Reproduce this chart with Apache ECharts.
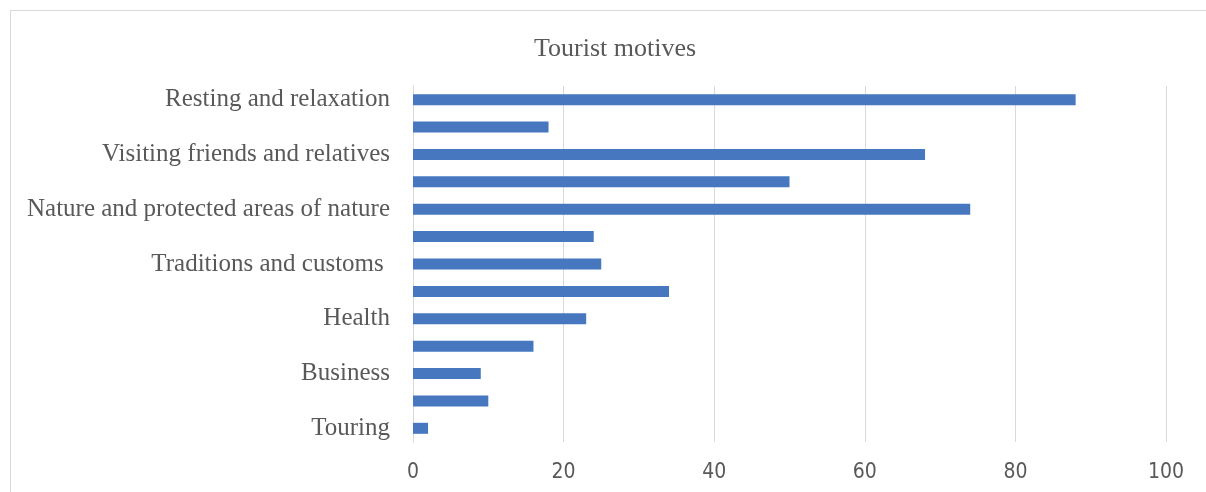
<!DOCTYPE html>
<html>
<head>
<meta charset="utf-8">
<script src="https://cdn.jsdelivr.net/npm/echarts@6/dist/echarts.min.js"></script>
<style>
html,body{margin:0;padding:0;background:#fff;}
#frame{position:absolute;left:10px;top:10px;width:1206px;height:492px;border:1px solid #d9d9d9;box-sizing:border-box;}
#chart{position:absolute;left:0;top:0;width:1206px;height:492px;}
</style>
</head>
<body>
<div id="frame"></div>
<div id="chart"></div>
<script>
const categories = [
  "Resting and relaxation", "",
  "Visiting friends and relatives", "",
  "Nature and protected areas of nature", "",
  "Traditions and customs ", "",
  "Health", "",
  "Business", "",
  "Touring"
];
const values = [88, 18, 68, 50, 74, 24, 25, 34, 23, 16, 9, 10, 2];
const xTicks = [0, 20, 40, 60, 80, 100];

const chart = echarts.init(document.getElementById('chart'));
chart.setOption({
  animation: false,
  title: {
    text: 'Tourist motives',
    left: 610,
    textAlign: 'center',
    top: 31,
    textStyle: {fontFamily: 'Liberation Serif', fontSize: 26, fontWeight: 'normal', color: '#595959'}
  },
  grid: {left: 413, right: 40, top: 86, bottom: 50, containLabel: false},
  xAxis: {
    type: 'value',
    min: xTicks[0],
    max: xTicks[xTicks.length - 1],
    interval: 20,
    axisLine: {show: false},
    axisTick: {show: false},
    splitLine: {show: true, lineStyle: {color: '#d9d9d9', width: 1}},
    axisLabel: {
      margin: 20,
      fontFamily: 'Liberation Sans Narrow, DejaVu Sans Condensed, sans-serif',
      fontSize: 21,
      color: '#595959'
    }
  },
  yAxis: {
    type: 'category',
    data: categories,
    inverse: true,
    axisLine: {show: true, lineStyle: {color: '#d9d9d9'}},
    axisTick: {show: false},
    axisLabel: {
      interval: 1,
      margin: 23,
      fontFamily: 'Liberation Serif',
      fontSize: 25,
      color: '#595959'
    }
  },
  series: [{
    type: 'bar',
    data: values,
    barWidth: 11,
    itemStyle: {color: '#4677bf'}
  }]
});
</script>
</body>
</html>
